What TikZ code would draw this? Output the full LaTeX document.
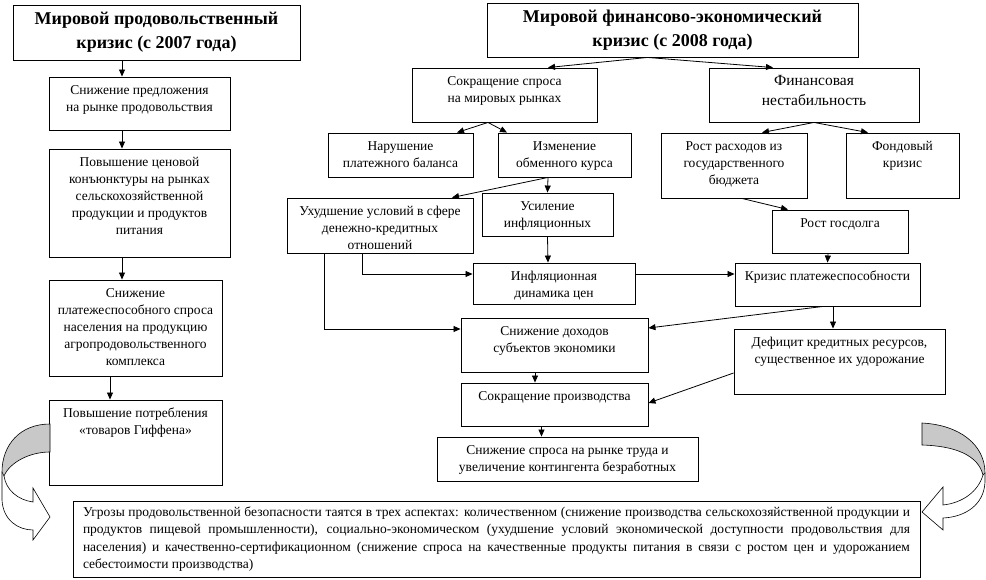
\documentclass[tikz,border=0pt]{standalone}
\usepackage{fontspec}
\setmainfont{Liberation Serif}
\usetikzlibrary{arrows.meta}
\definecolor{bandgray}{RGB}{200,200,200}
\newcommand{\bodyfont}{\fontsize{13.5}{17}\selectfont}
\newcommand{\titlefont}{\fontsize{18}{24}\selectfont\bfseries}
% text box of fixed size, text at top
\newcommand{\cell}[3]{\parbox[c][#2pt][t]{#1pt}{\centering\vspace*{5.5pt}\strut #3\par}}
\tikzstyle{box} = [draw, line width=0.9pt, inner sep=0pt, font=\bodyfont]
\tikzstyle{title} = [draw, line width=0.9pt, inner sep=0pt, align=center, font=\titlefont]
\tikzstyle{reg} = [->, >={Triangle[length=7pt, width=6pt]}, line width=0.8pt]
\tikzstyle{band} = [draw, line width=0.6pt]

\begin{document}
\begin{tikzpicture}[x=1pt, y=-1pt]
  \useasboundingbox (0,0) rectangle (986,580);

  % food crisis
  \node[title, minimum width=287pt, minimum height=55pt] (L0) at (156.5,32.5) {Мировой продовольственный\\кризис (с 2007 года)};
  \node[box] (L1) at (139.5,103.5) {\cell{181}{53}{Снижение предложения\\на рынке продовольствия}};
  \node[box] (L2) at (139.5,203) {\cell{181}{108}{Повышение ценовой\\конъюнктуры на рынках\\сельскохозяйственной\\продукции и продуктов\\питания}};
  \node[box] (L3) at (135.5,328) {\cell{173}{96}{Снижение\\платежеспособного спроса\\населения на продукцию\\агропродовольственного\\комплекса}};
  \node[box] (L4) at (135.5,442.5) {\cell{173}{85}{Повышение потребления\\«товаров Гиффена»}};

  % financial crisis
  \node[title, minimum width=371pt, minimum height=54pt] (R0) at (672.5,30) {Мировой финансово-экономический\\кризис (с 2008 года)};
  \node[box] (R1) at (504.5,95) {\cell{185}{54}{Сокращение спроса\\на мировых рынках}};
  \node[box] (R2) at (814,95) {\cell{210}{54}{\fontsize{15.5}{20}\selectfont Финансовая\\нестабильность}};
  \node[box] (R3) at (400.5,155) {\cell{145}{44}{Нарушение\\платежного баланса}};
  \node[box] (R4) at (564.5,155) {\cell{133}{44}{Изменение\\обменного курса}};
  \node[box] (R5) at (734,165.5) {\cell{146}{65}{Рост расходов из\\государственного\\бюджета}};
  \node[box] (R6) at (902.5,165.5) {\cell{113}{65}{Фондовый\\кризис}};
  \node[box] (R7) at (380,225.5) {\cell{186}{55}{Ухудшение условий в сфере\\денежно-кредитных\\отношений}};
  \node[box] (R8) at (547.5,214.5) {\cell{131}{43}{Усиление\\инфляционных}};
  \node[box] (R9) at (840,231.5) {\cell{136}{43}{Рост госдолга}};
  \node[box] (R10) at (554,283.5) {\cell{162}{41}{Инфляционная\\динамика цен}};
  \node[box] (R11) at (827.5,284.5) {\cell{185}{43}{Кризис платежеспособности}};
  \node[box] (R12) at (554.5,345) {\cell{187}{54}{Снижение доходов\\субъектов экономики}};
  \node[box] (R15) at (839.5,361.5) {\cell{211}{65}{Дефицит кредитных ресурсов,\\существенное их удорожание}};
  \node[box] (R13) at (554.5,404.5) {\cell{187}{43}{Сокращение производства}};
  \node[box] (R14) at (567.5,459) {\cell{261}{44}{Снижение спроса на рынке труда и\\увеличение контингента безработных}};

  % threats
  \node[box, text width=827pt, minimum width=847pt, minimum height=76pt, align=justify, font=\fontsize{13.5}{17.5}\selectfont] (B) at (496.5,539)
    {\hyphenpenalty=10000 \tolerance=10000 Угрозы продовольственной безопасности таятся в трех аспектах: количественном (снижение производства сельскохозяйственной продукции и\linebreak продуктов пищевой промышленности), социально-экономическом (ухудшение условий экономической доступности продовольствия для\linebreak населения) и качественно-сертификационном (снижение спроса на качественные продукты питания в связи с ростом цен и удорожанием\linebreak себестоимости производства)};

  % left chain
  \draw[reg] ([xshift=-34.5pt]L0.south) -- ([xshift=-17.5pt]L1.north);
  \draw[reg] ([xshift=-17.5pt]L1.south) -- ([xshift=-17.5pt]L2.north);
  \draw[reg] ([xshift=-17.5pt]L2.south) -- ([xshift=-13.5pt]L3.north);
  \draw[reg] ([xshift=-25.5pt]L3.south) -- ([xshift=-25.5pt]L4.north);

  % right tree
  \draw[reg] ([xshift=-25pt]R0.south) -- ([xshift=43.5pt]R1.north);
  \draw[reg] ([xshift=-25pt]R0.south) -- ([xshift=-41pt]R2.north);
  \draw[reg] ([xshift=-16.5pt]R1.south) -- ([xshift=56.5pt]R3.north);
  \draw[reg] ([xshift=-16.5pt]R1.south) -- ([xshift=-57.5pt]R4.north);
  \draw[reg] (R2.south) -- ([xshift=28pt]R5.north);
  \draw[reg] (R2.south) -- ([xshift=-34.5pt]R6.north);
  \draw[reg] ([xshift=-16.5pt]R4.south) -- (R8.north);
  \draw[reg] ([xshift=-16.5pt]R4.south) -- ([xshift=72pt]R7.north);
  \draw[reg] ([xshift=8pt]R5.south) -- ([xshift=-52pt]R9.north);
  \draw[reg] ([xshift=-12pt]R9.south) -- (R11.north);
  \draw[reg] (R8.south) -- ([xshift=-6pt]R10.north);
  \draw[reg] ([xshift=-18pt]R7.south) |- ([yshift=9.5pt]R10.west);
  \draw[reg] ([xshift=-56pt]R7.south) |- ([yshift=16pt]R12.west);
  \draw[reg] ([yshift=9.5pt]R10.east) -- ([yshift=10.5pt]R11.west);
  \draw[reg] ([xshift=5.5pt]R11.south) -- ([xshift=-6.5pt]R15.north);
  \draw[reg] ([xshift=-4.5pt]R11.south) -- ([yshift=17pt]R12.east);
  \draw[reg] ([yshift=-11.5pt]R15.west) -- ([yshift=1.5pt]R13.east);
  \draw[reg] ([xshift=-19.5pt]R12.south) -- ([xshift=-19.5pt]R13.north);
  \draw[reg] ([xshift=-13pt]R13.south) -- ([xshift=-26pt]R14.north);

  % curved arrows
  \fill[white] (2,472) -- (2,500) .. controls (3,520) and (18,530) .. (33,530) -- (33,540) -- (50,517) -- (33,488) -- (33,502) .. controls (18,500) and (6,490) .. (4,476) -- cycle;
  \draw[band] (2,472) -- (2,500) .. controls (3,520) and (18,530) .. (33,530) -- (33,540) -- (50,517) -- (33,488) -- (33,502) .. controls (18,500) and (6,490) .. (4,476);
  \filldraw[band, fill=bandgray] (50,424) .. controls (20,424) and (2,445) .. (2,472) -- (4,476) .. controls (10,462) and (30,452) .. (50,452) -- cycle;
  \fill[white] (985,473) -- (985,482) .. controls (984,505) and (965,517) .. (943,518) -- (943,530) -- (922,512) -- (943,487) -- (943,505) .. controls (962,503) and (978,492) .. (983,475) -- cycle;
  \draw[band] (985,473) -- (985,482) .. controls (984,505) and (965,517) .. (943,518) -- (943,530) -- (922,512) -- (943,487) -- (943,505) .. controls (962,503) and (978,492) .. (983,475);
  \filldraw[band, fill=bandgray] (922,423) .. controls (960,425) and (985,445) .. (985,473) -- (983,475) .. controls (978,455) and (955,446) .. (922,445) -- cycle;
\end{tikzpicture}
\end{document}
